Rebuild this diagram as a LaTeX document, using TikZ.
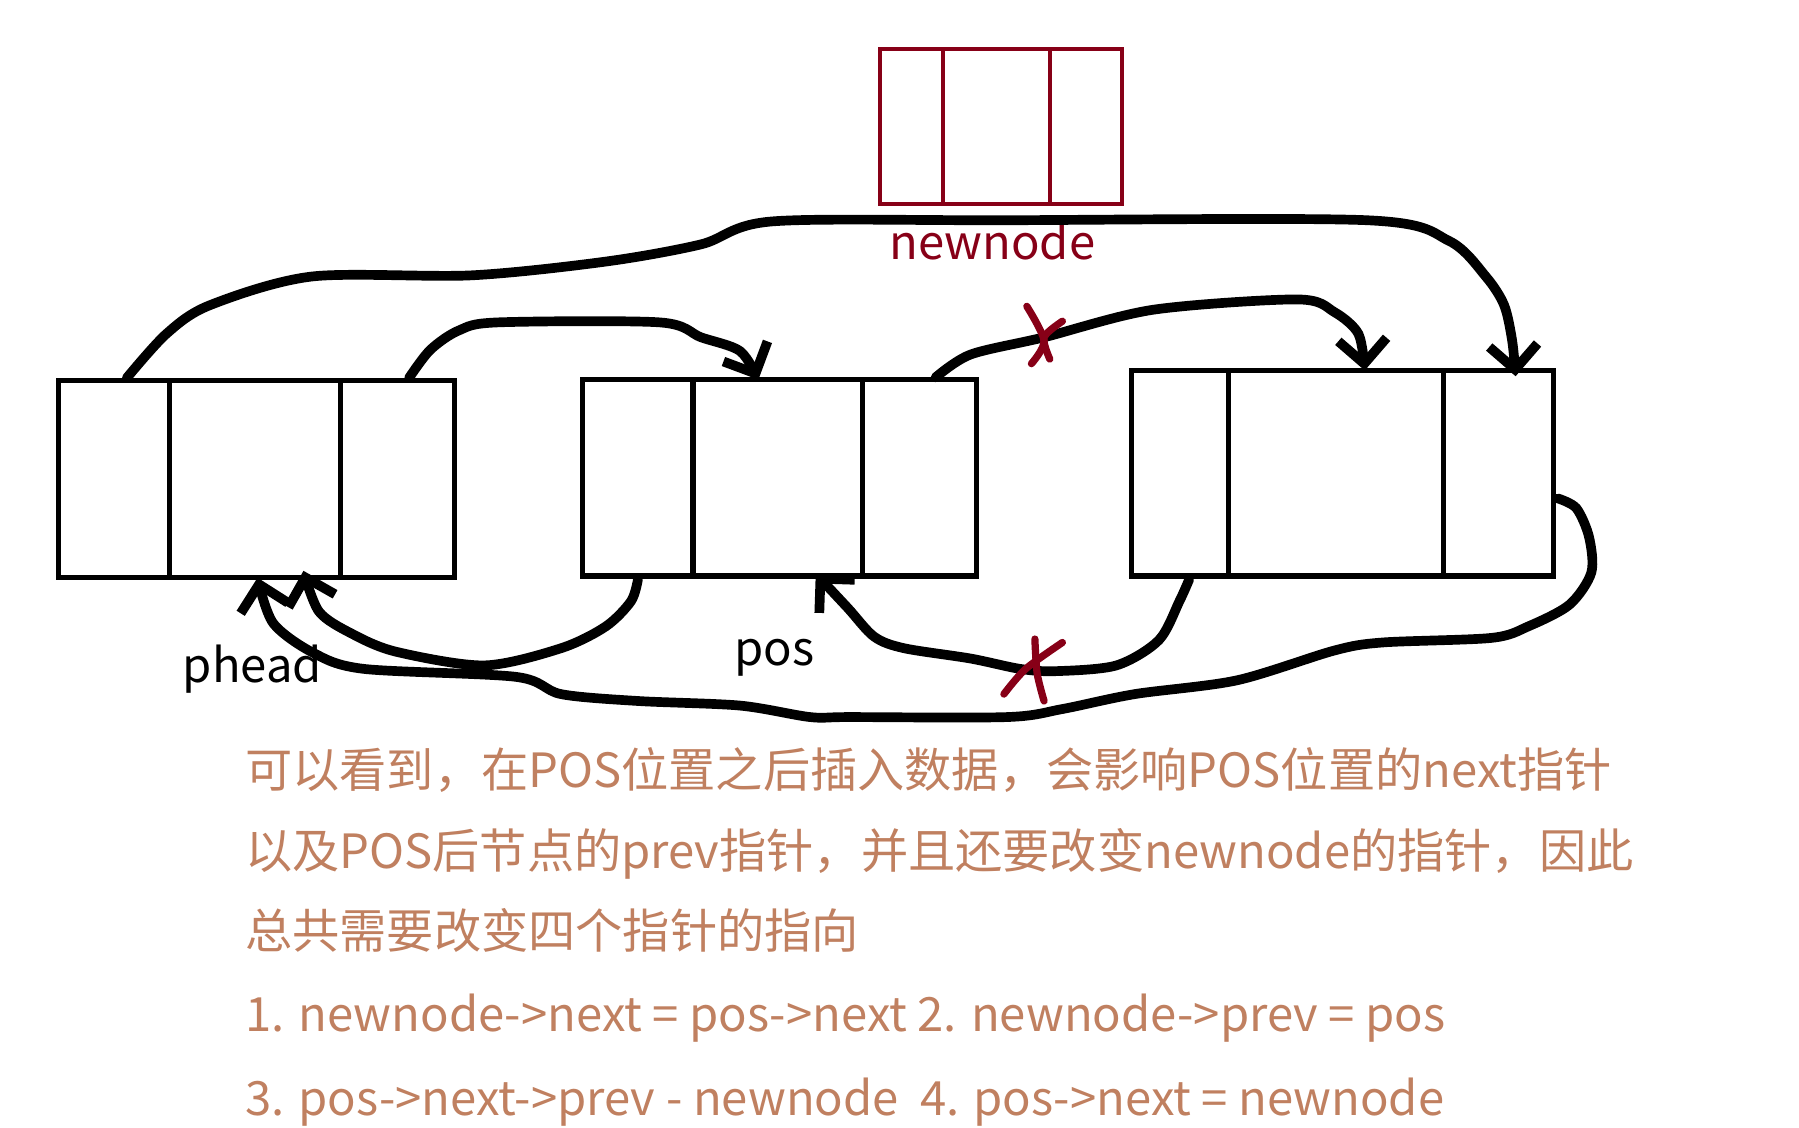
\documentclass[tikz,border=0pt]{standalone}
\usepackage{fontspec}
\setmainfont{Noto Sans CJK SC}
\usetikzlibrary{arrows.meta,calc}

\definecolor{nodered}{RGB}{135,0,23}
\definecolor{notebrown}{RGB}{192,128,96}

\tikzset{
  cell/.style={draw, line width=1.3pt, minimum height=1.72cm, inner sep=0pt, outer sep=0pt},
  newcell/.style={draw=nodered, line width=1pt, minimum height=1.35cm, inner sep=0pt, outer sep=0pt},
  link/.style={line width=2.4pt, line cap=round, line join=round, -{Straight Barb[length=6pt,width=12pt]}},
  cross/.style={nodered, line width=1.8pt, line cap=round},
  note/.style={notebrown, anchor=base west, inner sep=0pt, font=\fontsize{11.7pt}{14pt}\selectfont},
  label/.style={font=\fontsize{11.7pt}{14pt}\selectfont, inner sep=0pt}
}

\begin{document}
\begin{tikzpicture}[x=0.01cm, y=-0.01cm]
    \useasboundingbox (0,0) rectangle (1568,983);

    % First node (phead)
    \node[cell, minimum width=0.97cm] (p1) at (99.5, 417.5) {};
    \node[cell, minimum width=1.49cm] (d1) at (222.5, 417.5) {};
    \node[cell, minimum width=0.99cm] (n1) at (346.5, 417.5) {};

    % Second node (pos)
    \node[cell, minimum width=0.96cm, minimum height=1.71cm] (p2) at (556, 416.5) {};
    \node[cell, minimum width=1.48cm, minimum height=1.71cm] (d2) at (678, 416.5) {};
    \node[cell, minimum width=0.99cm, minimum height=1.71cm] (n2) at (801.5, 416.5) {};

    % Third node
    \node[cell, minimum width=0.85cm, minimum height=1.79cm] (p3) at (1028.5, 412.5) {};
    \node[cell, minimum width=1.87cm, minimum height=1.79cm] (d3) at (1164.5, 412.5) {};
    \node[cell, minimum width=0.96cm, minimum height=1.79cm] (n3) at (1306, 412.5) {};

    % New node
    \node[newcell, minimum width=0.55cm] (q1) at (794.5, 110.5) {};
    \node[newcell, minimum width=0.93cm] (q2) at (868.5, 110.5) {};
    \node[newcell, minimum width=0.63cm] (q3) at (946.5, 110.5) {};

    % Labels
    \node[label, nodered] (newlabel) at (865, 210) {newnode};
    \node[label] (pheadlabel) at (220, 583) {phead};
    \node[label] (poslabel) at (675, 573) {pos};

    % Pointers above
    \draw[link] plot[smooth, tension=0.5] coordinates {($(p1.north)+(11,-2)$) (145,291) (183,266) (272,241) (411,240) (528,228) (611,213) (673,193) (872,192) (1192,192) (1263,210) (1295,241) (1311,266) (1318,297) ($(n3.north)+(15,5)$)};
    \draw[link] plot[smooth, tension=0.5] coordinates {($(n1.north)+(10,-2)$) (375,305) (400,288) (434,281) (575,281) (611,294) (645,306) ($(d2.north)+(-17,0)$)};
    \draw[link] plot[smooth, tension=0.5] coordinates {($(n2.north)+(14,-2)$) (846,309) (910,294) (1005,270) (1131,261) (1163,272) (1184,291) ($(d3.north)+(25,0)$)};

    % Pointers below
    \draw[link] plot[smooth, tension=0.5] coordinates {($(p2.south)+(0,3)$) (550,524) (528,546) (489,565) (422,580) (345,568) (306,552) (278,533) ($(d1.south)+(42,-6)$)};
    \draw[link] plot[smooth, tension=0.5] coordinates {($(p3.south)+(8,3)$) (1028,524) (1010,558) (973,580) (920,585) (889,583) (846,574) (788,565) (762,555) (739,530) ($(d2.south)+(33,-2)$)};
    \draw[link] plot[smooth, tension=0.5] coordinates {($(n3.east)+(4,22)$) (1374,443) (1385,468) (1387,499) (1368,527) (1332,546) (1300,556) (1205,560) (1163,567) (1078,593) (989,605) (926,618) (878,625) (741,625) (706,625) (645,615) (556,611) (489,605) (450,590) (317,583) (273,569) (238,543) ($(d1.south)+(2,0)$)};

    % Cut pointers
    \draw[cross] plot[smooth] coordinates {(895,267) (910,297) (899,317)};
    \draw[cross] plot[smooth] coordinates {(926,280) (910,294) (915,313)};
    \draw[cross] plot[smooth] coordinates {(902,557) (904,587) (910,611)};
    \draw[cross] plot[smooth] coordinates {(926,560) (894,583) (875,605)};

    % Explanation
    \node[note] (line1) at (213, 686) {可以看到，在POS位置之后插入数据，会影响POS位置的next指针};
    \node[note] (line2) at (213, 757) {以及POS后节点的prev指针，并且还要改变newnode的指针，因此};
    \node[note] (line3) at (213, 827) {总共需要改变四个指针的指向};
    \node[note] (line4) at (213, 899) {1. newnode->next = pos->next 2. newnode->prev = pos};
    \node[note] (line5) at (213, 972) {3. pos->next->prev - newnode\ \ 4. pos->next = newnode};
\end{tikzpicture}
\end{document}
